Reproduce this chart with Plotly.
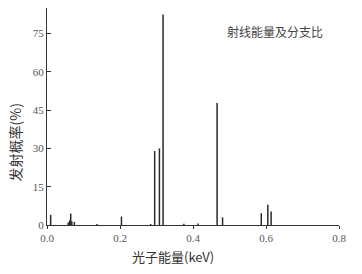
import plotly.graph_objects as go

# Peak energies (keV) and emission probabilities (%)
energies = [0.010, 0.058, 0.062, 0.065, 0.068, 0.075, 0.137, 0.204, 0.284,
            0.295, 0.308, 0.318, 0.375, 0.414, 0.466, 0.481, 0.587, 0.605, 0.614]
probs = [4.0, 1.0, 1.8, 4.5, 1.5, 1.2, 0.4, 3.3, 0.4,
         29.0, 30.0, 82.5, 0.5, 0.6, 47.8, 3.0, 4.6, 7.9, 5.3]

x_ticks = [0.0, 0.2, 0.4, 0.6, 0.8]
x_ticktext = ["0.0", "0.2", "0.4", "0.6", "0.8"]
y_ticks = [0, 15, 30, 45, 60, 75, 85]
y_ticktext = ["0", "15", "30", "45", "60", "75", ""]

xs, ys = [], []
for e, p in zip(energies, probs):
    xs += [e, e, None]
    ys += [0, p, None]

fig = go.Figure()
fig.add_trace(go.Scatter(x=xs, y=ys, mode="lines",
                         line=dict(color="#2a2a2a", width=1.5),
                         hoverinfo="skip", showlegend=False))

serif = "Liberation Serif, Times New Roman, serif"
cjk = "Noto Sans CJK SC, sans-serif"

fig.update_layout(
    width=362, height=274,
    margin=dict(l=47, r=23, t=8, b=49),
    paper_bgcolor="white", plot_bgcolor="white",
    showlegend=False,
    xaxis=dict(range=[0, 0.8], tickvals=x_ticks, ticktext=x_ticktext,
               showgrid=False, zeroline=False, showline=True,
               linecolor="#333", linewidth=1.2,
               ticks="outside", ticklen=3, tickcolor="#333",
               tickfont=dict(family=serif, size=11, color="#555")),
    yaxis=dict(range=[0, 85], tickvals=y_ticks, ticktext=y_ticktext,
               showgrid=False, zeroline=False, showline=True,
               linecolor="#333", linewidth=1.2,
               ticks="inside", ticklen=4, tickcolor="#333",
               tickfont=dict(family=serif, size=11, color="#555")),
    annotations=[
        dict(text="射线能量及分支比", x=0.78, y=0.89, xref="paper", yref="paper",
             xanchor="center", yanchor="middle", showarrow=False,
             font=dict(family=cjk, size=12, color="#444")),
        dict(text="光子能量(keV)", x=0.43, y=-0.145, xref="paper", yref="paper",
             xanchor="center", yanchor="middle", showarrow=False,
             font=dict(family=cjk, size=13, color="#333")),
        dict(text="发射概率(%)", x=-0.11, y=0.38, xref="paper", yref="paper",
             xanchor="center", yanchor="middle", showarrow=False, textangle=-90,
             font=dict(family=cjk, size=14, color="#333")),
    ],
)

fig.write_html("out.html", config={"displayModeBar": False},
               post_script="document.body.style.margin='0';")
